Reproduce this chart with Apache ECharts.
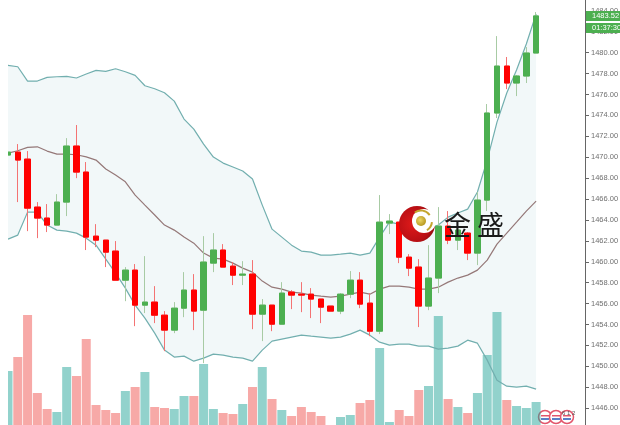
<!DOCTYPE html>
<html>
<head>
<meta charset="utf-8">
<title>K</title>
<script src="https://cdn.jsdelivr.net/npm/echarts@6/dist/echarts.min.js"></script>
<style>
html, body { margin: 0; padding: 0; background: #fff; }
#main { width: 620px; height: 425px; }
</style>
</head>
<body>
<div id="main"></div>
<script>
var opens = [1470.21,1470.49,1469.82,1465.23,1464.18,1463.51,1465.71,1471.07,1468.58,1462.45,1462.07,1461.02,1458.24,1459.20,1455.85,1456.14,1454.89,1453.46,1455.56,1457.29,
  1455.37,1459.87,1461.12,1459.58,1458.72,1458.82,1454.99,1455.85,1454.03,1457.10,1456.90,1456.90,1456.43,1455.76,1455.28,1456.90,1458.24,1456.04,1453.36,
  1463.70,1463.79,1460.44,1459.49,1455.76,1458.44,1463.41,1462.07,1462.74,1460.83,1465.90,1474.23,1478.72,1477.10,1477.77,1479.97];
var closes = [1470.49,1469.73,1465.13,1464.18,1463.51,1465.71,1471.07,1468.58,1462.36,1462.07,1460.92,1458.24,1459.20,1455.85,1456.14,1454.89,1453.46,1455.56,1457.29,1455.28,
  1459.97,1461.12,1459.49,1458.72,1458.82,1454.99,1455.85,1454.03,1457.00,1456.81,1456.81,1456.43,1455.66,1455.28,1456.90,1458.24,1455.95,1453.36,1463.79,
  1463.89,1460.44,1459.39,1455.76,1458.44,1463.41,1462.07,1463.03,1460.83,1465.90,1474.23,1478.72,1477.10,1477.77,1479.97,1483.52];
var highs = [1474.32,1471.26,1470.59,1465.71,1465.52,1466.47,1471.83,1473.08,1469.54,1463.60,1462.07,1461.98,1459.49,1459.78,1460.54,1457.67,1455.28,1456.14,1459.01,1458.82,
  1462.45,1462.74,1461.69,1459.97,1460.06,1460.16,1456.43,1455.85,1458.05,1457.29,1458.05,1457.48,1456.43,1455.76,1457.00,1459.11,1459.01,1457.00,1466.38,
  1464.56,1463.79,1460.73,1460.25,1461.59,1465.23,1464.85,1463.70,1462.84,1466.67,1475.09,1481.59,1479.59,1477.86,1480.54,1483.89];
var lows = [1468.68,1465.71,1462.93,1462.26,1462.84,1463.51,1464.37,1468.00,1461.12,1461.40,1459.49,1458.24,1456.23,1453.84,1455.09,1454.13,1451.45,1453.17,1454.70,1453.46,
  1450.30,1459.01,1459.49,1457.77,1457.77,1453.55,1452.41,1453.36,1454.03,1455.47,1455.18,1454.61,1454.13,1455.28,1454.99,1456.52,1455.56,1452.88,1453.08,
  1462.65,1459.87,1458.63,1453.75,1455.37,1457.00,1461.69,1461.12,1460.16,1459.68,1464.85,1473.75,1476.52,1475.85,1477.10,1479.97];
var volumes = [58,72,114,36,20,17,62,53,90,24,19,16,38,42,57,22,21,20,33,33,
  65,20,16,15,25,42,62,30,19,13,22,17,13,2,12,14,26,29,81,
  7,19,13,39,43,113,30,22,16,36,74,117,29,23,21,27];
var bandUpper = [1478.79,1478.66,1477.29,1477.29,1477.64,1477.70,1477.74,1477.58,1477.96,1478.31,1478.22,1478.47,1478.18,1477.83,1476.84,1476.55,1476.17,1475.37,1473.65,1472.69,
  1471.26,1470.02,1469.44,1469.06,1468.68,1467.91,1465.42,1463.12,1462.36,1461.59,1461.02,1460.92,1460.64,1460.64,1460.73,1460.83,1460.64,1460.83,1462.36,
  1463.79,1463.60,1463.41,1463.32,1463.22,1463.51,1464.27,1464.66,1465.04,1466.67,1469.73,1473.36,1476.14,1478.34,1480.83,1483.70];
var bandMiddle = [1470.40,1470.62,1470.94,1471.00,1470.59,1470.30,1470.30,1470.24,1470.04,1469.73,1468.87,1468.29,1467.65,1466.38,1465.42,1464.47,1463.51,1463.03,1462.36,1461.78,
  1460.83,1460.35,1460.25,1459.87,1459.39,1459.01,1458.15,1457.57,1457.38,1457.10,1457.00,1456.81,1456.71,1456.62,1456.71,1456.90,1457.10,1456.90,1457.38,
  1457.67,1457.67,1457.57,1457.38,1457.38,1457.57,1458.05,1458.44,1458.72,1459.20,1460.16,1461.69,1462.74,1463.79,1464.85,1465.80];
var bandLower = [1462.17,1462.55,1464.75,1464.75,1463.51,1463.03,1462.93,1462.74,1462.26,1461.59,1460.25,1458.91,1457.48,1455.85,1454.61,1453.17,1451.55,1450.88,1450.97,1450.49,
  1450.78,1451.16,1451.07,1450.88,1450.78,1450.49,1451.55,1452.41,1452.60,1452.79,1452.98,1452.88,1452.79,1452.69,1452.79,1453.08,1453.46,1452.98,1452.31,
  1452.02,1452.12,1452.12,1451.93,1451.93,1451.64,1451.74,1451.93,1452.50,1452.21,1450.59,1448.67,1448.10,1448.00,1448.10,1447.81];
var lastPrice = 1483.52;
var countdown = '01:37:30';
var logoText = '金 盛';

// 5 empty slots on the right, the price axis sits past the last candle
var categories = [];
for (var i = 0; i < opens.length + 5; i++) {
  categories.push(String(i));
}

var candleFull = [], candleBody = [], bandDiff = [], volumeData = [];
for (var k = 0; k < opens.length; k++) {
  var bodyHigh = Math.max(opens[k], closes[k]);
  var bodyLow = Math.min(opens[k], closes[k]);
  candleFull.push([opens[k], closes[k], lows[k], highs[k]]);
  candleBody.push([opens[k], closes[k], bodyLow, bodyHigh]);
  bandDiff.push(+(bandUpper[k] - bandLower[k]).toFixed(2));
  volumeData.push({
    value: volumes[k],
    itemStyle: { color: closes[k] >= opens[k] ? 'rgba(38,166,154,0.5)' : 'rgba(239,83,80,0.5)' }
  });
}

var green = '#4caf50', red = '#ff0000';
var chart = echarts.init(document.getElementById('main'));

var lineSeries = function(data, color, z) {
  return {
    type: 'line',
    data: data,
    symbol: 'none',
    silent: true,
    z: z,
    lineStyle: { color: color, width: 1.2 }
  };
};

chart.setOption({
  animation: false,
  backgroundColor: '#fff',
  grid: { left: 8, top: -10, width: 577, height: 439, outerBoundsMode: 'none' },
  xAxis: {
    type: 'category',
    data: categories,
    boundaryGap: false,
    show: false
  },
  yAxis: [{
    type: 'value',
    position: 'right',
    min: 1444,
    max: 1486,
    interval: 2,
    splitLine: { show: false },
    axisLine: { show: true, lineStyle: { color: '#666', width: 1 } },
    axisTick: { show: true, length: 4, lineStyle: { color: '#666' } },
    axisLabel: {
      margin: 6,
      color: '#6f6f6f',
      fontFamily: 'Liberation Sans',
      fontSize: 7.5,
      formatter: function(v) { return v.toFixed(2); }
    }
  }, {
    type: 'value',
    show: false,
    min: 0,
    max: 439,
    splitLine: { show: false }
  }],
  series: [
    { type: 'line', data: bandLower, stack: 'band', symbol: 'none', silent: true, z: 1, lineStyle: { opacity: 0 } },
    { type: 'line', data: bandDiff, stack: 'band', symbol: 'none', silent: true, z: 1, lineStyle: { opacity: 0 },
      areaStyle: { color: '#f2f8f9', opacity: 1 } },
    { type: 'bar', yAxisIndex: 1, data: volumeData, barWidth: 9, z: 2, silent: true },
    lineSeries(bandUpper, '#72afaf', 3),
    lineSeries(bandLower, '#72afaf', 3),
    lineSeries(bandMiddle, '#957878', 3),
    { type: 'candlestick', data: candleFull, barWidth: 6, z: 4, silent: true,
      itemStyle: { color: '#a8cba4', color0: '#f47373', borderColor: '#a8cba4', borderColor0: '#f47373', borderWidth: 1 } },
    { type: 'candlestick', data: candleBody, barWidth: 6, z: 5, silent: true,
      itemStyle: { color: green, color0: red, borderColor: green, borderColor0: red, borderWidth: 1 } }
  ]
});

// price and countdown tags follow the y axis, logo and flags sit on top
var tagY = Math.round(chart.convertToPixel({ yAxisIndex: 0 }, lastPrice));
var flag = function(cx) {
  return {
    type: 'group',
    z: 20,
    children: [
      { type: 'circle', shape: { cx: cx, cy: 417, r: 6.5 }, style: { fill: '#fff', stroke: '#e2566c', lineWidth: 1.5 } },
      { type: 'rect', shape: { x: cx - 4, y: 415, width: 8, height: 1.5 }, style: { fill: '#e2566c' } },
      { type: 'rect', shape: { x: cx - 4, y: 418, width: 8, height: 2 }, style: { fill: '#5b7fc7' } }
    ]
  };
};

chart.setOption({
  graphic: [
    // the picture is cut at x=8, first candle and bar stop there
    { type: 'rect', z: 15, shape: { x: 0, y: 0, width: 8, height: 425 }, style: { fill: '#fff' } },

    { type: 'rect', z: 30, shape: { x: 586, y: tagY - 5, width: 34, height: 10 }, style: { fill: green } },
    { type: 'rect', z: 30, shape: { x: 586, y: tagY + 7, width: 34, height: 10 }, style: { fill: green } },
    { type: 'text', z: 31, x: 592, y: tagY, style: { text: lastPrice.toFixed(2), fill: '#fff', font: '7.5px "Liberation Sans"', verticalAlign: 'middle' } },
    { type: 'text', z: 31, x: 592, y: tagY + 12, style: { text: countdown, fill: '#fff', font: '7.5px "Liberation Sans"', verticalAlign: 'middle' } },

    { type: 'circle', z: 20, shape: { cx: 417, cy: 224, r: 18 }, style: {
      fill: new echarts.graphic.RadialGradient(0.4, 0.5, 0.7, [
        { offset: 0, color: '#e01a1a' }, { offset: 0.7, color: '#b80f14' }, { offset: 1, color: '#6e0c0c' }
      ])
    } },
    { type: 'circle', z: 21, shape: { cx: 424, cy: 221, r: 12 }, style: { fill: '#fff' } },
    { type: 'circle', z: 22, shape: { cx: 421, cy: 221, r: 5 }, style: {
      fill: new echarts.graphic.RadialGradient(0.4, 0.4, 0.7, [
        { offset: 0, color: '#ecd765' }, { offset: 1, color: '#b08f16' }
      ])
    } },
    { type: 'arc', z: 22, shape: { cx: 421, cy: 221, r: 10.5, startAngle: -2.2, endAngle: -0.6 }, style: { stroke: '#c4a52e', lineWidth: 2, fill: 'none' } },
    { type: 'arc', z: 22, shape: { cx: 421, cy: 221, r: 11, startAngle: 0.1, endAngle: 1.0 }, style: { stroke: '#c4a52e', lineWidth: 2, fill: 'none' } },
    { type: 'text', z: 23, x: 444, y: 225, style: { text: logoText, fill: '#1a1a1a', font: '27px "Noto Sans CJK SC"', verticalAlign: 'middle' } },

    flag(545), flag(556), flag(567),
    { type: 'text', z: 23, x: 562, y: 413, style: { text: '6 1 2', fill: '#555', font: '6px "Liberation Sans"', verticalAlign: 'middle' } }
  ]
});
</script>
</body>
</html>
